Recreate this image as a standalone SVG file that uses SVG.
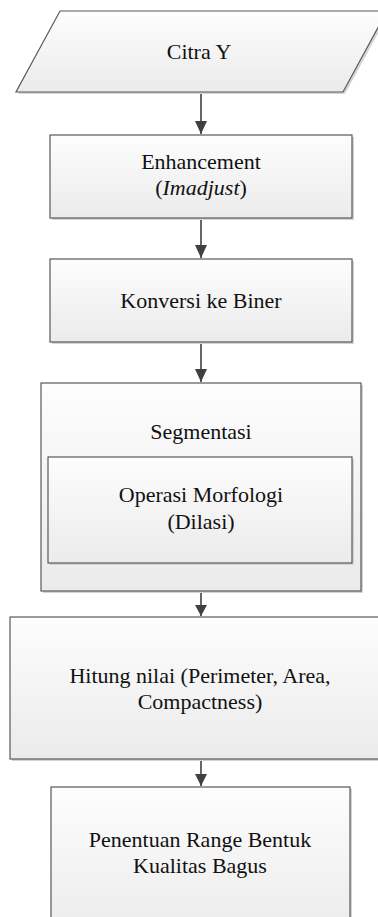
<svg xmlns="http://www.w3.org/2000/svg" width="378" height="917" viewBox="0 0 378 917">
<defs>
<linearGradient id="g" x1="0" y1="0" x2="0" y2="1">
<stop offset="0" stop-color="#fdfdfd"/>
<stop offset="1" stop-color="#ebebeb"/>
</linearGradient>
<marker id="ah" markerWidth="12" markerHeight="13" refX="6" refY="13" orient="auto-start-reverse" markerUnits="userSpaceOnUse" viewBox="0 0 12 13">
<path d="M0,0 L12,0 L6,13 Z" fill="#404040"/>
</marker>
<style>
.sh{fill:#d4d4d4;stroke:none}
.bx{fill:url(#g);stroke:#595959;stroke-width:1.2}
.t{font-family:"Liberation Serif","Times New Roman",serif;font-size:22px;fill:#111;text-anchor:middle}
.c{stroke:#404040;stroke-width:1.6;fill:none}
</style>
</defs>
<rect width="378" height="917" fill="#ffffff"/>
<g id="connectors">
<line class="c" x1="201" y1="92" x2="201" y2="134"/>
<path d="M195,121 L207,121 L201,134 Z" fill="#404040"/>
<line class="c" x1="201" y1="218" x2="201" y2="258"/>
<path d="M195,245 L207,245 L201,258 Z" fill="#404040"/>
<line class="c" x1="201" y1="342" x2="201" y2="382"/>
<path d="M195,369 L207,369 L201,382 Z" fill="#404040"/>
<line class="c" x1="201" y1="591" x2="201" y2="616"/>
<path d="M195,605 L207,605 L201,616 Z" fill="#404040"/>
<line class="c" x1="201" y1="759" x2="201" y2="786"/>
<path d="M195,774 L207,774 L201,786 Z" fill="#404040"/>
</g>
<g id="citra-y">
<polygon class="sh" points="62,13 389,13 345,94 18,94"/>
<polygon class="bx" points="60,11 387,11 343,92 16,92"/>
<text class="t" x="199" y="59">Citra Y</text>
</g>
<g id="enhancement">
<rect class="sh" x="52" y="137" width="302" height="83"/>
<rect class="bx" x="50" y="135" width="302" height="83"/>
<text class="t" x="201" y="169">Enhancement</text>
<text class="t" x="201" y="195">(<tspan font-style="italic">Imadjust</tspan>)</text>
</g>
<g id="konversi">
<rect class="sh" x="52" y="261" width="302" height="83"/>
<rect class="bx" x="50" y="259" width="302" height="83"/>
<text class="t" x="201" y="308">Konversi ke Biner</text>
</g>
<g id="segmentasi">
<rect class="sh" x="43" y="385" width="320" height="208"/>
<rect class="bx" x="41" y="383" width="320" height="208"/>
<text class="t" x="201" y="439">Segmentasi</text>
<g id="operasi-morfologi">
<rect class="sh" x="50" y="459" width="304" height="106"/>
<rect class="bx" x="48" y="457" width="304" height="106"/>
<text class="t" x="201" y="502">Operasi Morfologi</text>
<text class="t" x="201" y="529">(Dilasi)</text>
</g>
</g>
<g id="hitung-nilai">
<rect class="sh" x="12" y="619" width="380" height="142"/>
<rect class="bx" x="10" y="617" width="380" height="142"/>
<text class="t" x="200" y="683">Hitung nilai (Perimeter, Area,</text>
<text class="t" x="200" y="709">Compactness)</text>
</g>
<g id="penentuan-range">
<rect class="sh" x="53" y="789" width="299" height="150"/>
<rect class="bx" x="51" y="787" width="299" height="150"/>
<text class="t" x="200" y="847">Penentuan Range Bentuk</text>
<text class="t" x="200" y="873">Kualitas Bagus</text>
</g>
</svg>
